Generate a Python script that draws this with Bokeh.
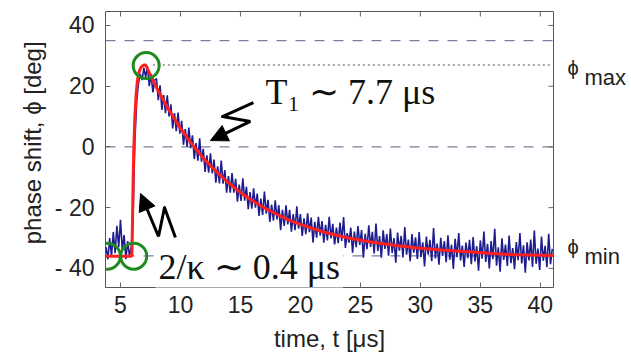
import numpy as np
from bokeh.plotting import figure
from bokeh.models import Range1d, LinearAxis, Label, Arrow, NormalHead, FixedTicker, Span
from bokeh.embed import file_html
from bokeh.resources import INLINE

# ---------------- data ----------------
T_START = 3.8      # µs, first sample of the measured trace
T_STEP = 0.15      # µs, sample spacing of the measured trace

phase_meas = [
    -33, -37, -30, -36, -28, -35, -26, -33, -24, -34,
    -29, -37, -31, -36, -33, -22, 2, 15, 21, 24,
    22, 26, 23, 26.5, 20, 24, 18, 22,
    22.5, 15.4, 20.3, 12.2, 17.1, 11.1, 17.0, 10.0, 14.0, 6.1,
    11.1, 5.2, 11.3, 4.4, 8.6, 0.7, 5.9, 0.1, 6.4, -0.4,
    3.8, -4.0, 1.3, -4.5, 2.8, -4.9, -0.6, -8.2, -2.8, -8.5,
    -2.1, -8.7, -4.2, -11.8, -6.4, -12.0, -4.5, -12.1, -7.6, -15.1,
    -9.6, -15.1, -8.6, -15.1, -10.5, -18.0, -12.4, -17.8, -10.3, -17.7,
    -13.1, -20.5, -14.9, -20.3, -13.6, -20.0, -15.4, -22.7, -17.0, -22.4,
    -14.7, -22.0, -17.4, -24.7, -19.0, -24.3, -17.6, -23.9, -19.2, -27.4,
    -20.7, -26.0, -19.2, -25.5, -20.7, -27.9, -22.1, -27.4, -19.6, -26.9,
    -22.1, -29.3, -23.5, -28.7, -21.9, -28.1, -23.3, -31.5, -24.7, -29.9,
    -23.0, -29.2, -24.4, -31.5, -25.7, -30.8, -23.0, -30.1, -25.3, -32.4,
    -26.6, -31.7, -24.9, -31.0, -23.1, -33.3, -28.4, -31.5, -26.6, -34.8,
    -27.9, -33.0, -26.1, -32.3, -27.4, -36.5, -28.6, -33.7, -25.8, -32.9,
    -28.0, -35.1, -25.2, -34.3, -29.4, -36.5, -27.5, -33.6, -28.7, -35.8,
    -26.9, -34.9, -30.0, -38.1, -28.2, -34.2, -29.3, -36.4, -26.4, -35.5,
    -30.5, -37.6, -28.7, -34.8, -29.8, -36.9, -28.0, -36.3, -31.4, -39.4,
    -29.5, -35.5, -30.6, -37.6, -26.7, -36.7, -31.8, -38.8, -29.9, -35.9,
    -31.0, -38.0, -29.1, -37.1, -32.2, -40.2, -30.3, -36.3, -28.4, -37.4,
    -32.5, -39.5, -31.5, -36.6, -30.6, -38.6, -29.7, -37.7, -32.7, -40.8,
    -30.8, -36.8, -27.9, -37.9, -31.9, -40.0, -31.0, -37.0, -27.0, -39.1,
    -33.1, -41.1, -30.1, -37.2, -32.2, -39.2, -29.2, -38.3, -33.3, -40.3,
    -31.3, -37.3, -28.4, -38.4, -32.4, -41.4, -31.4, -37.4, -30.5, -39.5,
    -27.5, -38.5, -33.5, -40.5, -29.5, -37.5, -32.6, -39.6, -28.6, -38.6, -33.6,
]

fit_t = [3.75, 5.95, 6.0, 6.05, 6.1, 6.2, 6.3, 6.4, 6.5, 6.65, 6.8, 7.0, 7.1,
         7.5, 8, 9, 10, 11, 12, 13, 14, 15, 16, 17, 18, 19, 20,
         22, 24, 26, 28, 30, 32, 34, 36, 38, 41.1]
fit_phi = [-36, -36, -25, -12, -2, 10, 17, 21.5, 24, 25.8, 26.6, 27.0, 27.0,
           23.6, 19.6, 12.4, 6.1, 0.7, -4.1, -8.2, -11.8, -15.0, -17.7, -20.1, -22.1, -24.0, -25.5,
           -28.1, -30.0, -31.4, -32.5, -33.4, -34.0, -34.5, -35.1, -35.5, -35.8]

x_ticks = [5, 10, 15, 20, 25, 30, 35, 40]
y_ticks = [-40, -20, 0, 20, 40]
y_tick_labels = {-40: "- 40", -20: "- 20", 0: "0", 20: "20", 40: "40"}

PHI_DASH_TOP = 35
PHI_DASH_ZERO = 0
PHI_MIN = -35.9
PHI_MAX = 27
PHI_MAX_DOT_START = 7.7

# right-margin labels: symbol row and subscript row positions (deg)
sym_pos = {26: "ϕ", -33: "ϕ"}
sub_pos = {23: "max", -36: "min"}

marker_t = [3.9, 6.1, 7.14]
marker_phi = [-36, -36, 26.8]

X_MIN, X_MAX = 3.75, 41.1
Y_MIN, Y_MAX = -46.3, 44.6

# annotation geometry (data units)
t1_tail_t = [16.08, 13.5, 15.83]
t1_tail_phi = [14.6, 10.0, 8.4]
t1_tip = (12.5, 2.1)
k_tail_t = [9.58, 8.67, 8.17]
k_tail_phi = [-29.85, -19.97, -29.5]
k_tip = (6.67, -15.35)

# ---------------- figure ----------------
FRAME_W, FRAME_H = 448, 276
TICK_PX = 5
t_meas = T_START + T_STEP * np.arange(len(phase_meas))

p = figure(frame_width=FRAME_W, frame_height=FRAME_H,
           x_range=Range1d(X_MIN, X_MAX), y_range=Range1d(Y_MIN, Y_MAX),
           output_backend="svg", toolbar_location=None,
           min_border_left=105, min_border_right=78, min_border_top=11, min_border_bottom=68)
p.grid.visible = False
p.outline_line_color = "#555555"
p.outline_line_width = 1
p.background_fill_color = "white"
p.border_fill_color = "white"

SANS = "Liberation Sans"
SERIF = "Liberation Serif"
TXT = "#222222"
TICK_COLOR = "#666666"

for ax in p.xaxis:
    ax.ticker = FixedTicker(ticks=x_ticks)
for ax in p.yaxis:
    ax.ticker = FixedTicker(ticks=y_ticks)
    ax.major_label_overrides = y_tick_labels

for ax in list(p.xaxis) + list(p.yaxis):
    ax.axis_line_color = None
    ax.major_tick_in = TICK_PX
    ax.major_tick_out = 0
    ax.major_tick_line_color = TICK_COLOR
    ax.minor_tick_line_color = None
    ax.major_label_text_font = SANS
    ax.major_label_text_font_size = "23px"
    ax.major_label_text_color = TXT
    ax.axis_label_text_font = SANS
    ax.axis_label_text_font_size = "24px"
    ax.axis_label_text_font_style = "normal"
    ax.axis_label_text_color = TXT

p.xaxis.axis_label = "time, t [μs]"
p.xaxis.major_label_standoff = 8
p.xaxis.axis_label_standoff = 9
p.yaxis.axis_label = "\u00a0\u00a0\u00a0phase shift,  ϕ [deg]"
p.yaxis.major_label_standoff = 11
p.yaxis.axis_label_standoff = 6

# mirrored tick marks on the top and right frame edges
tick_len_y = TICK_PX * (Y_MAX - Y_MIN) / FRAME_H
tick_len_x = TICK_PX * (X_MAX - X_MIN) / FRAME_W
p.segment(x0=x_ticks, y0=[Y_MAX] * len(x_ticks), x1=x_ticks,
          y1=[Y_MAX - tick_len_y] * len(x_ticks), line_color=TICK_COLOR, line_width=1)
p.segment(x0=[X_MAX] * len(y_ticks), y0=y_ticks, x1=[X_MAX - tick_len_x] * len(y_ticks),
          y1=y_ticks, line_color=TICK_COLOR, line_width=1)

# phi_max / phi_min labels in the right margin
sym_axis = LinearAxis(ticker=FixedTicker(ticks=list(sym_pos)), major_label_overrides=sym_pos,
                      axis_line_color=None, major_tick_in=0, major_tick_out=0,
                      minor_tick_line_color=None, major_label_text_font=SANS,
                      major_label_text_font_size="20px", major_label_text_color=TXT,
                      major_label_standoff=14)
p.add_layout(sym_axis, "right")
sub_axis = LinearAxis(ticker=FixedTicker(ticks=list(sub_pos)), major_label_overrides=sub_pos,
                      axis_line_color=None, major_tick_in=0, major_tick_out=0,
                      minor_tick_line_color=None, major_label_text_font=SANS,
                      major_label_text_font_size="22px", major_label_text_color=TXT,
                      major_label_standoff=3)
p.add_layout(sub_axis, "right")

# reference lines
for loc in (PHI_DASH_TOP, PHI_DASH_ZERO, PHI_MIN):
    p.add_layout(Span(location=loc, dimension="width", line_color="#7c7c9c",
                      line_width=1.3, line_dash="10 9", level="underlay"))
p.segment(x0=[PHI_MAX_DOT_START], y0=[PHI_MAX], x1=[X_MAX], y1=[PHI_MAX],
          line_color="#8a8a8a", line_width=1.5, line_dash="2 3")

# data
p.line(t_meas, phase_meas, line_color="#1d1d8f", line_width=1.6)
p.line(fit_t, fit_phi, line_color="#ff1f1f", line_width=3)
p.scatter(marker_t, marker_phi, marker="circle", size=26, fill_alpha=0,
          line_color="#1f8a1f", line_width=3)

# arrows with zigzag tails
p.line(t1_tail_t, t1_tail_phi, line_color="black", line_width=3, line_join="round")
p.add_layout(Arrow(end=NormalHead(size=17, fill_color="black", line_color="black"),
                   x_start=t1_tail_t[-1], y_start=t1_tail_phi[-1],
                   x_end=t1_tip[0], y_end=t1_tip[1], line_width=3, line_color="black"))
p.line(k_tail_t, k_tail_phi, line_color="black", line_width=3, line_join="round")
p.add_layout(Arrow(end=NormalHead(size=17, fill_color="black", line_color="black"),
                   x_start=k_tail_t[-1], y_start=k_tail_phi[-1],
                   x_end=k_tip[0], y_end=k_tip[1], line_width=3, line_color="black"))

p.add_layout(Label(x=17.08, y=18.0, text="T₁ ∼ 7.7 μs", text_font=SERIF,
                   text_font_size="36px", text_color="#111111", text_baseline="alphabetic"))
p.add_layout(Label(x=7.92, y=-39.7, text="2/κ ∼ 0.4 μs", text_font=SERIF,
                   text_font_size="36px", text_color="#111111", text_baseline="alphabetic",
                   background_fill_color="white", background_fill_alpha=1.0, padding=3))

open("out.html", "w").write(file_html(p, INLINE))
